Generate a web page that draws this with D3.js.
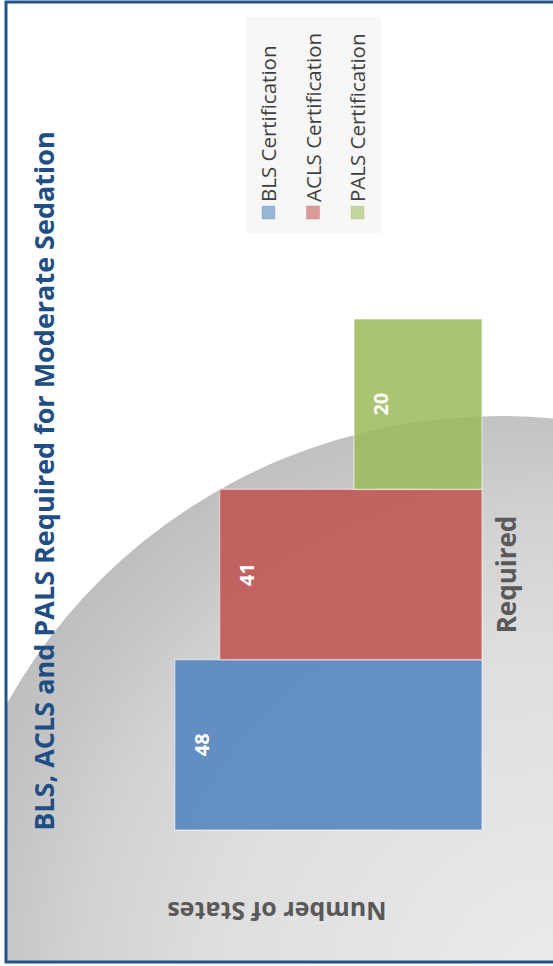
<!DOCTYPE html>
<html>
<head>
<meta charset="utf-8">
<script src="https://cdn.jsdelivr.net/npm/d3@7"></script>
<style>
  html, body { margin: 0; padding: 0; background: #ffffff; }
  svg { display: block; }
</style>
</head>
<body>
<div id="chart"></div>
<script>
// ---- data ----
const title = "BLS, ACLS and PALS Required for Moderate Sedation";
const categories = ["Required"];
const seriesNames = ["BLS Certification", "ACLS Certification", "PALS Certification"];
const seriesValues = [48, 41, 20];
const seriesColors = ["#4F81BD", "#C0504D", "#9BBB59"];
const yAxisTitle = "Number of States";
const yDomain = [0, 60];

// ---- canvas ----
const W = 553, H = 966;          // screen
const OW = 966, OH = 553;        // original (unrotated) chart frame

const svg = d3.select("#chart").append("svg")
  .attr("width", W).attr("height", H);

const defs = svg.append("defs");
const rg = defs.append("radialGradient").attr("id", "bgGrad")
  .attr("gradientUnits", "userSpaceOnUse")
  .attr("cx", 560).attr("cy", 1000).attr("r", 640);
[[0, "#ececec"], [0.55, "#dedede"], [0.75, "#d2d2d2"], [0.9, "#c4c4c4"], [1, "#bdbdbd"]]
  .forEach(([o, c]) => rg.append("stop").attr("offset", o).attr("stop-color", c));

defs.append("clipPath").attr("id", "inner")
  .append("rect").attr("x", 7).attr("y", 3).attr("width", W).attr("height", 958);

// white background + gray backdrop shape (screen coords)
svg.append("rect").attr("width", W).attr("height", H).attr("fill", "#ffffff");
svg.append("g").attr("clip-path", "url(#inner)")
  .append("ellipse")
  .attr("cx", 500).attr("cy", 966).attr("rx", 561).attr("ry", 550)
  .attr("fill", "url(#bgGrad)");

// ---- chart in original frame, rotated -90deg ----
const g = svg.append("g").attr("transform", `translate(0,${H}) rotate(-90)`);

const x0 = d3.scaleBand().domain(categories).range([136, 647]).paddingInner(0).paddingOuter(0);
const x1 = d3.scaleBand().domain(seriesNames).range([0, x0.bandwidth()]).padding(0);
const y = d3.scaleLinear().domain(yDomain).range([482, 98]);
const color = d3.scaleOrdinal().domain(seriesNames).range(seriesColors);

const rows = seriesNames.map((s, i) => ({ series: s, value: seriesValues[i], cat: categories[0] }));

const barG = g.append("g");
barG.selectAll("rect").data(rows).join("rect")
  .attr("x", d => x0(d.cat) + x1(d.series))
  .attr("y", d => y(d.value))
  .attr("width", x1.bandwidth())
  .attr("height", d => y(0) - y(d.value))
  .attr("fill", d => color(d.series))
  .attr("fill-opacity", 0.85)
  .attr("stroke", "#ffffff")
  .attr("stroke-opacity", 0.45)
  .attr("stroke-width", 1.5);

barG.selectAll("text").data(rows).join("text")
  .attr("x", d => x0(d.cat) + x1(d.series) + x1.bandwidth() / 2)
  .attr("y", d => y(d.value) + 34)
  .attr("text-anchor", "middle")
  .attr("font-family", "'Open Sans', sans-serif")
  .attr("font-weight", 700)
  .attr("font-size", 20)
  .attr("fill", "#ffffff")
  .text(d => d.value);

// category axis (labels only)
const xAxis = d3.axisBottom(x0).tickSize(0).tickPadding(0);
const xa = g.append("g").attr("transform", `translate(0,${y(0)})`).call(xAxis);
xa.select(".domain").remove();
xa.selectAll("text")
  .attr("dy", null).attr("y", 34)
  .attr("font-family", "'Open Sans', sans-serif")
  .attr("font-weight", 700)
  .attr("font-size", 26)
  .attr("fill", "#595959");

// y axis title
g.append("text")
  .attr("transform", `translate(64,${(y(yDomain[0]) + y(yDomain[1])) / 2 - 13}) rotate(-90)`)
  .attr("text-anchor", "middle")
  .attr("font-family", "'Open Sans', sans-serif")
  .attr("font-weight", 700)
  .attr("font-size", 25)
  .attr("fill", "#595959")
  .text(yAxisTitle);

// chart title
g.append("text")
  .attr("x", OW / 2 + 2).attr("y", 54)
  .attr("text-anchor", "middle")
  .attr("font-family", "'Open Sans', sans-serif")
  .attr("font-weight", 700)
  .attr("font-size", 27)
  .attr("fill", "#1F4E85")
  .text(title);

// legend
const lg = g.append("g").attr("transform", "translate(733,246)");
lg.append("rect").attr("width", 216).attr("height", 135).attr("fill", "#f7f7f7");
const item = lg.selectAll("g.item").data(seriesNames).join("g")
  .attr("class", "item")
  .attr("transform", (d, i) => `translate(0,${22.5 + i * 44.5})`);
item.append("rect")
  .attr("x", 14).attr("y", -6.5).attr("width", 13).attr("height", 13)
  .attr("fill", d => color(d)).attr("fill-opacity", 0.55)
  .attr("stroke", d => color(d)).attr("stroke-opacity", 0.25);
item.append("text")
  .attr("x", 31).attr("y", 7.5)
  .attr("font-family", "'Open Sans', sans-serif")
  .attr("font-size", 20.5)
  .attr("fill", "#404040")
  .text(d => d);

// frame border (screen coords)
svg.append("rect")
  .attr("x", 6).attr("y", 2).attr("width", W + 10).attr("height", 960)
  .attr("fill", "none").attr("stroke", "#24528A").attr("stroke-width", 3);
</script>
</body>
</html>
